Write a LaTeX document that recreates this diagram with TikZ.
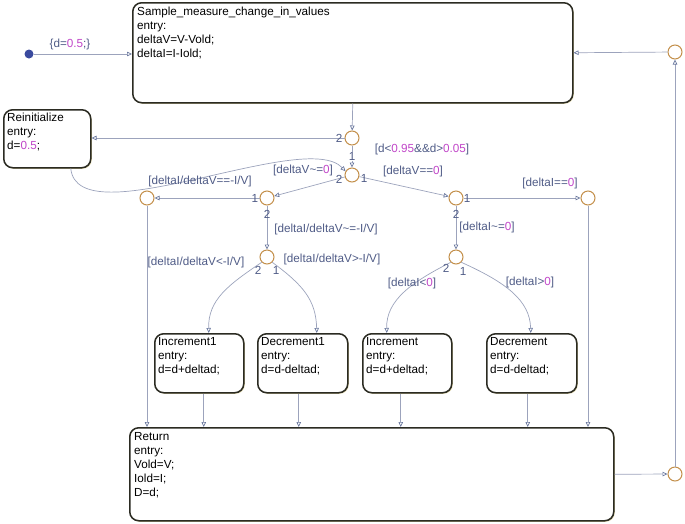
\documentclass[tikz,border=0pt]{standalone}
\usepackage{fontspec}
\setmainfont{Liberation Sans}
\usetikzlibrary{arrows.meta,shadows}
\definecolor{boxc}{HTML}{2B2B22}
\definecolor{linec}{HTML}{9CA3BC}
\definecolor{tipc}{HTML}{6A789E}
\definecolor{junc}{HTML}{C38F4A}
\definecolor{labc}{HTML}{4F5B86}
\definecolor{numc}{HTML}{C046C8}
\definecolor{initc}{HTML}{3A4A9E}
\definecolor{shadc}{HTML}{DCD3A6}
\newcommand{\nmv}[1]{\textcolor{numc}{#1}}
\begin{document}
\begin{tikzpicture}[x=1pt,y=-1pt,
  font=\fontsize{11.7}{14}\selectfont,
  statebox/.style={draw=boxc, line width=1.5pt, rounded corners=9pt, inner sep=0pt,
    anchor=north west, fill=white,
    drop shadow={shadow xshift=1pt,shadow yshift=-1pt,fill=shadc,opacity=1}},
  boxtext/.style={anchor=north west, align=left, inner sep=0pt, text=black},
  junction/.style={circle, draw=junc, line width=1pt, minimum size=14pt, inner sep=0pt, fill=white},
  conn/.style={draw=linec, line width=0.7pt, -{Triangle[open,length=5pt,width=4.5pt,color=tipc]}},
  lab/.style={text=labc, inner sep=1pt},
  numl/.style={text=labc, inner sep=0.5pt}
]
\useasboundingbox (0,0) rectangle (685,523);

% states
\node[statebox, minimum width=440pt, minimum height=100pt] (sample) at (132,2) {};
\node[boxtext] (sampletxt) at ([shift={(5,5)}]sample.north west)
  {Sample\_measure\_change\_in\_values\\entry:\\deltaV=V-Vold;\\deltaI=I-Iold;};

\node[statebox, minimum width=87pt, minimum height=58pt] (reinit) at (3,109) {};
\node[boxtext] (reinittxt) at ([shift={(4,4)}]reinit.north west)
  {Reinitialize\\entry:\\d=\nmv{0.5};};

\node[statebox, minimum width=89pt, minimum height=59pt] (inc1) at (154,333) {};
\node[boxtext] (inc1txt) at ([shift={(4,4)}]inc1.north west)
  {Increment1\\entry:\\d=d+deltad;};

\node[statebox, minimum width=90pt, minimum height=59pt] (dec1) at (257,333) {};
\node[boxtext] (dec1txt) at ([shift={(4,4)}]dec1.north west)
  {Decrement1\\entry:\\d=d-deltad;};

\node[statebox, minimum width=89pt, minimum height=59pt] (inc) at (362,333) {};
\node[boxtext] (inctxt) at ([shift={(4,4)}]inc.north west)
  {Increment\\entry:\\d=d+deltad;};

\node[statebox, minimum width=90pt, minimum height=59pt] (dec) at (486,333) {};
\node[boxtext] (dectxt) at ([shift={(4,4)}]dec.north west)
  {Decrement\\entry:\\d=d-deltad;};

\node[statebox, minimum width=484pt, minimum height=93pt] (ret) at (129,427) {};
\node[boxtext] (rettxt) at ([shift={(5,5)}]ret.north west)
  {Return\\entry:\\Vold=V;\\Iold=I;\\D=d;};

% junctions
\node[junction] (j1) at (352,138) {};
\node[junction] (j2) at (352,175) {};
\node[junction] (j3) at (267,198) {};
\node[junction] (j4) at (147,198) {};
\node[junction] (j5) at (267,257) {};
\node[junction] (j6) at (456,198) {};
\node[junction] (j7) at (588,198) {};
\node[junction] (j8) at (456,257) {};
\node[junction] (j9) at (675,474) {};
\node[junction] (j10) at (675,52) {};

\node[circle, fill=initc, minimum size=9pt, inner sep=0pt] (init) at (29,54) {};

% connectors
\draw[conn] (init) -- (init -| sample.west);
\draw[conn] (sample.south) -- (j1);
\draw[conn] (j1) -- (j1 -| reinit.east);
\draw[conn] (j1) -- node[numl, fill=white] {1} (j2);
\draw[conn] ([xshift=23.5pt]reinit.south) .. controls (78,238) and (305,128) .. (j2.150);
\draw[conn] (j2) -- (j3);
\draw[conn] (j3) -- (j4);
\draw[conn] (j3) -- (j5);
\draw[conn] (j4) -- (j4 |- ret.north);
\draw[conn] (j5.225) .. controls (228,285) and (208,300) .. ([xshift=9.5pt]inc1.north);
\draw[conn] (j5.315) .. controls (303,285) and (316,300) .. ([xshift=14pt]dec1.north);
\draw[conn] (j2) -- (j6);
\draw[conn] (j6) -- (j7);
\draw[conn] (j6) -- (j8);
\draw[conn] (j8.225) .. controls (412,282) and (386,300) .. ([xshift=-20.5pt]inc.north);
\draw[conn] (j8.315) .. controls (505,282) and (530,300) .. ([xshift=-1pt]dec.north);
\draw[conn] (j7) -- (j7 |- ret.north);
\draw[conn] ([xshift=4.5pt]inc1.south) -- ([xshift=4.5pt]inc1.south |- ret.north);
\draw[conn] ([xshift=-4pt]dec1.south) -- ([xshift=-4pt]dec1.south |- ret.north);
\draw[conn] ([xshift=-6.5pt]inc.south) -- ([xshift=-6.5pt]inc.south |- ret.north);
\draw[conn] ([xshift=-4pt]dec.south) -- ([xshift=-4pt]dec.south |- ret.north);
\draw[conn] (ret.east) -- (j9);
\draw[conn] (j9) -- (j10);
\draw[conn] (j10) -- (sample.east);

% transition numbers
\node[numl] (n1) at ([shift={(-13,0)}]j1) {2};
\node[numl] (n2) at ([shift={(-13,4)}]j2) {2};
\node[numl] (n3) at ([shift={(12,3)}]j2) {1};
\node[numl] (n4) at ([shift={(-12,0)}]j3) {1};
\node[numl] (n5) at ([shift={(0,16)}]j3) {2};
\node[numl] (n6) at ([shift={(11,0)}]j6) {1};
\node[numl] (n7) at ([shift={(0,16)}]j6) {2};
\node[numl] (n8) at ([shift={(-9,13)}]j5) {2};
\node[numl] (n9) at ([shift={(9,13)}]j5) {1};
\node[numl] (n10) at ([shift={(-10,11)}]j8) {2};
\node[numl] (n11) at ([shift={(7,14)}]j8) {1};

% transition labels
\node[lab] (l0) at (70,44) {\{d=\nmv{0.5};\}};
\node[lab] (l1) at (422,149) {[d<\nmv{0.95}\&\&d>\nmv{0.05}]};
\node[lab] (l2) at (303,170) {[deltaV\textasciitilde=\nmv{0}]};
\node[lab] (l3) at (413,171) {[deltaV==\nmv{0}]};
\node[lab] (l4) at (200,181) {[deltaI/deltaV==-I/V]};
\node[lab] (l5) at (550,183) {[deltaI==\nmv{0}]};
\node[lab] (l6) at (326,229) {[deltaI/deltaV\textasciitilde=-I/V]};
\node[lab] (l7) at (487,227) {[deltaI\textasciitilde=\nmv{0}]};
\node[lab] (l8) at (332,259) {[deltaI/deltaV>-I/V]};
\node[lab] (l9) at (196,262) {[deltaI/deltaV<-I/V]};
\node[lab] (l10) at (412,283) {[deltaI<\nmv{0}]};
\node[lab] (l11) at (530,282) {[deltaI>\nmv{0}]};
\end{tikzpicture}
\end{document}
